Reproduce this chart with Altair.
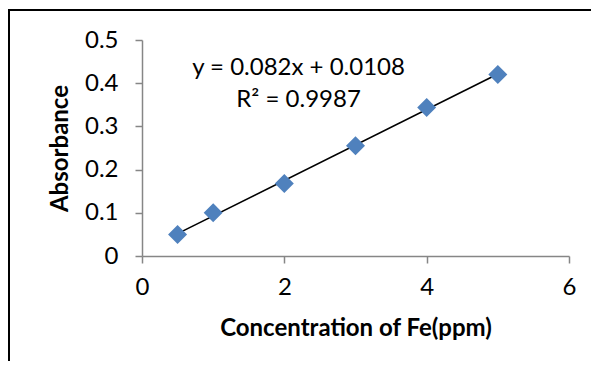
import altair as alt
import pandas as pd

# Data
concentration = [0.5, 1, 2, 3, 4, 5]
absorbance = [0.05, 0.10, 0.168, 0.255, 0.344, 0.42]

x_ticks = [0, 2, 4, 6]
y_ticks = [0, 0.1, 0.2, 0.3, 0.4, 0.5]

eq_lines = ["y = 0.082x + 0.0108", "R² = 0.9987"]
eq_x = [2.2, 2.2]
eq_y = [0.435, 0.361]

FONT = "Lato"
BLUE = "#4F81BD"
AXIS_GRAY = "#868686"

df = pd.DataFrame({"conc": concentration, "abs": absorbance})
df_eq = pd.DataFrame({"label": eq_lines, "x": eq_x, "y": eq_y})

x_enc = alt.X(
    "conc:Q",
    scale=alt.Scale(domain=[0, 6], nice=False, zero=True),
    axis=alt.Axis(
        values=x_ticks,
        title="Concentration of Fe(ppm)",
        format="d",
        labelFlush=False,
        labelPadding=12,
        titlePadding=17,
    ),
)
y_enc = alt.Y(
    "abs:Q",
    scale=alt.Scale(domain=[0, 0.5], nice=False),
    axis=alt.Axis(
        values=y_ticks,
        title="Absorbance",
        format=".1~f",
        labelFlush=False,
        labelPadding=17,
        titlePadding=12,
    ),
)

points = alt.Chart(df).mark_point(
    shape="diamond", filled=True, size=360, color=BLUE, opacity=1
).encode(x=x_enc, y=y_enc)

trend = (
    alt.Chart(df)
    .transform_regression("conc", "abs")
    .mark_line(color="black", strokeWidth=1.6)
    .encode(x="conc:Q", y="abs:Q")
)

eq_text = alt.Chart(df_eq).mark_text(
    font=FONT, fontSize=24, color="black", align="center", baseline="middle"
).encode(x="x:Q", y="y:Q", text="label:N")

# Outer chart border (top and left edges visible in the reference)
border_top = alt.Chart(df.head(1)).mark_rule(color="black", strokeWidth=2).encode(
    x=alt.value(-133), x2=alt.value(470), y=alt.value(-30)
)
border_left = alt.Chart(df.head(1)).mark_rule(color="black", strokeWidth=2).encode(
    x=alt.value(-133), y=alt.value(-31), y2=alt.value(400)
)

chart = (
    alt.layer(border_top, border_left, trend, points, eq_text)
    .properties(
        width=427,
        height=216,
        autosize=alt.AutoSizeParams(type="none"),
        padding={"left": 134, "top": 32, "right": 22, "bottom": 105},
    )
    .configure_view(stroke=None)
    .configure_axis(
        grid=False,
        domainColor=AXIS_GRAY,
        domainWidth=1.5,
        tickColor=AXIS_GRAY,
        tickWidth=1.5,
        tickSize=7,
        labelFont=FONT,
        labelFontSize=24,
        labelColor="black",
        titleFont=FONT,
        titleFontSize=24,
        titleFontWeight="bold",
        titleColor="black",
    )
)

chart.save("out.html", embed_options={"renderer": "svg", "actions": False})
